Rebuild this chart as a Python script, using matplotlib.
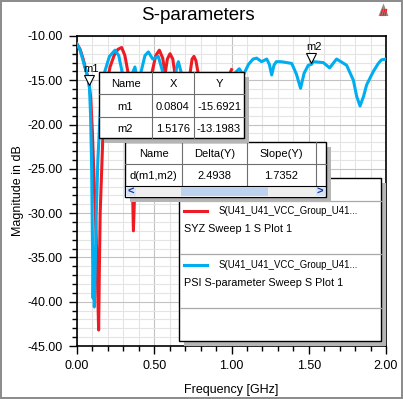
"""S-parameter magnitude plot: SYZ sweep vs PSI sweep, with marker and delta tables"""

import matplotlib
matplotlib.use("Agg")
import matplotlib.pyplot as plt
import matplotlib.transforms as mtransforms
from matplotlib.patches import Rectangle, Polygon
from matplotlib.ticker import MultipleLocator, FormatStrFormatter

plt.rcParams['font.family'] = ['Liberation Sans', 'DejaVu Sans']

# SYZ Sweep 1 (red)
f_syz = [0.00, 0.02, 0.04, 0.06, 0.075, 0.089, 0.10, 0.11, 0.125, 0.133, 0.140,
         0.145, 0.15, 0.16, 0.17, 0.185, 0.214, 0.24, 0.265, 0.289, 0.31, 0.332,
         0.35, 0.365, 0.38, 0.41, 0.45, 0.483, 0.51, 0.533, 0.555, 0.57, 0.585,
         0.602, 0.62, 0.634, 0.66, 0.68, 0.70, 0.731, 0.745, 0.757, 0.77, 0.785,
         0.82, 0.87, 0.93, 0.97, 1.00]
db_syz = [-10.9, -11.5, -12.6, -14.0, -15.0, -17.0, -21.0, -26.0, -33.0, -38.0, -43.2,
          -36.0, -30.0, -25.0, -20.0, -16.0, -13.5, -12.2, -11.5, -11.3, -12.2, -14.3,
          -19.0, -32.0, -24.0, -18.0, -15.5, -14.3, -12.2, -11.6, -12.5, -14.3, -12.6,
          -12.0, -12.6, -14.3, -19.0, -24.0, -19.0, -14.3, -12.6, -12.3, -12.8, -14.3,
          -18.0, -22.0, -17.0, -15.0, -13.8]

# PSI S-parameter Sweep (blue)
f_psi = [0.00, 0.02, 0.04, 0.05, 0.065, 0.0804, 0.088, 0.095, 0.100, 0.104, 0.108,
         0.112, 0.118, 0.125, 0.135, 0.155, 0.18, 0.21, 0.246, 0.27, 0.289, 0.31,
         0.34, 0.375, 0.395, 0.418, 0.44, 0.462, 0.49, 0.526, 0.559, 0.59, 0.62,
         0.645, 0.656, 0.677, 0.72, 0.78, 0.84, 0.90, 0.95, 1.00, 1.033, 1.05,
         1.077, 1.11, 1.14, 1.163, 1.195, 1.228, 1.245, 1.26, 1.275, 1.29, 1.32,
         1.357, 1.39, 1.42, 1.447, 1.47, 1.497, 1.5176, 1.53, 1.594, 1.635, 1.68,
         1.745, 1.789, 1.81, 1.832, 1.855, 1.875, 1.918, 1.95, 1.97, 2.00]
db_psi = [-10.9, -11.6, -12.8, -13.5, -14.3, -15.69, -19.0, -25.0, -33.0, -39.6, -35.0,
          -40.6, -36.0, -30.0, -24.0, -17.0, -14.0, -12.3, -11.6, -12.2, -13.8, -16.0,
          -15.0, -13.5, -15.5, -13.8, -12.2, -11.8, -12.6, -12.3, -14.3, -24.0, -17.0,
          -13.5, -12.9, -14.3, -19.0, -15.5, -16.5, -21.0, -17.0, -14.6, -14.0, -13.7,
          -14.4, -13.2, -12.6, -12.5, -12.9, -12.6, -13.2, -14.4, -13.3, -12.9, -12.9,
          -13.0, -13.1, -14.3, -15.9, -14.2, -13.3, -13.2, -12.9, -13.0, -13.6, -12.6,
          -13.3, -15.0, -16.8, -17.9, -16.8, -15.5, -14.0, -13.1, -12.7, -12.6]

# markers (name, X, Y)
marker_names = ['m1', 'm2']
marker_x = [0.0804, 1.5176]
marker_y = [-15.6921, -13.1983]

legend_names = ['S(U41_U41_VCC_Group_U41...', 'S(U41_U41_VCC_Group_U41...']
legend_sub = ['SYZ Sweep 1 S Plot 1', 'PSI S-parameter Sweep S Plot 1']

red = '#ed1c24'
blue = '#00aeef'

W, H = 403, 399
fig = plt.figure(figsize=(W / 100, H / 100), dpi=100)

# main plot area (pixel box 77..386 x 36..346)
ax = fig.add_axes([77 / W, (H - 346) / H, 309 / W, 310 / H])
ax.plot(f_syz, db_syz, color=red, lw=2.2, zorder=3)
ax.plot(f_psi, db_psi, color=blue, lw=2.2, zorder=4)
ax.set_xlim(0, 2)
ax.set_ylim(-45, -10)

ax.xaxis.set_major_locator(MultipleLocator(0.5))
ax.xaxis.set_minor_locator(MultipleLocator(0.1))
ax.yaxis.set_major_locator(MultipleLocator(5))
ax.yaxis.set_minor_locator(MultipleLocator(1))
ax.xaxis.set_major_formatter(FormatStrFormatter('%.2f'))
ax.yaxis.set_major_formatter(FormatStrFormatter('%.2f'))
ax.tick_params(which='major', length=6, width=1, labelsize=9, pad=4)
ax.tick_params(which='minor', length=3.5, width=1)
ax.grid(True, which='minor', color='#e4e4e4', lw=0.8)
ax.grid(True, which='major', color='#c2c2c2', lw=0.8)
ax.set_axisbelow(True)
for sp in ax.spines.values():
    sp.set_linewidth(1.2)
ax.set_xlabel('Frequency [GHz]', fontsize=9, labelpad=9)
ax.set_ylabel('Magnitude in dB', fontsize=9, labelpad=3)

# marker triangles sit a little above the point
mtrans = mtransforms.offset_copy(ax.transData, fig=fig, x=0, y=4.5, units='points')
ax.plot(marker_x, marker_y, 'v', ms=7, mfc='white', mec='black', mew=0.8,
        transform=mtrans, zorder=6, clip_on=False)
for name, x, y in zip(marker_names, marker_x, marker_y):
    ax.annotate(name, (x, y), xytext=(1.5, 12.8), textcoords='offset points',
                ha='center', va='center', fontsize=8, zorder=6)

# overlay in pixel coordinates for the title, tables and legend panel
ov = fig.add_axes([0, 0, 1, 1], zorder=10)
ov.set_xlim(0, W)
ov.set_ylim(H, 0)
ov.axis('off')
ov.patch.set_alpha(0)

ov.add_patch(Rectangle((0.7, 0.7), W - 1.4, H - 1.4, fill=False, ec='#8a8a8a', lw=1.4))
ov.text(197.5, 16, 'S-parameters', fontsize=13.5, ha='center', va='center')

# small logo top right
ov.add_patch(Polygon([(378.5, 16), (383.5, 3.5), (388.5, 16)], fc='#8f8f8f', ec='none'))
for xs in [(380.8, 382.6), (383.0, 384.8), (385.2, 386.6)]:
    ov.plot(xs, (15.5, 9.5), color=red, lw=0.9)


def draw_box(x0, y0, x1, y1, z, shadow=5):
    ov.add_patch(Rectangle((x0 + shadow, y0 + shadow), x1 - x0, y1 - y0,
                           fc='#b5b5b5', ec='none', zorder=z))
    ov.add_patch(Rectangle((x0, y0), x1 - x0, y1 - y0, fc='white', ec='black',
                           lw=1, zorder=z + 1))


def draw_cells(cols, rows, cells, z):
    for c in cols[1:-1]:
        ov.plot([c, c], [rows[0], rows[-1]], color='#6e6e6e', lw=0.8, zorder=z + 2)
    for r in rows[1:-1]:
        ov.plot([cols[0], cols[-1]], [r, r], color='#6e6e6e', lw=0.8, zorder=z + 2)
    for i, row in enumerate(cells):
        for j, val in enumerate(row):
            ov.text((cols[j] + cols[j + 1]) / 2, (rows[i] + rows[i + 1]) / 2 + 1, val,
                    ha='center', va='center', fontsize=8, zorder=z + 3)


# legend panel
draw_box(179, 178, 381, 341, z=20)
for yy in [201, 254, 308]:
    ov.plot([179.5, 380.5], [yy, yy], color='#a8a8a8', lw=0.9, zorder=22)
for k, (col, nm, sub) in enumerate(zip([red, blue], legend_names, legend_sub)):
    y_line = 211 + 54 * k
    ov.plot([184, 207], [y_line, y_line], color=col, lw=2.2, zorder=23)
    ov.text(219, y_line, nm, fontsize=6.9, va='center', zorder=23)
    ov.text(184, y_line + 18.5, sub, fontsize=7.8, va='center', zorder=23)

# delta table with its scroll bar
delta = marker_y[1] - marker_y[0]
slope = delta / (marker_x[1] - marker_x[0])
draw_box(125, 142, 326, 197, z=30)
draw_cells([125, 182, 247, 316, 326], [142, 164, 186],
           [['Name', 'Delta(Y)', 'Slope(Y)', ''],
            ['d(m1,m2)', '%.4f' % delta, '%.4f' % slope, '']], z=30)
ov.plot([125, 326], [186, 186], color='black', lw=0.8, zorder=33)
ov.add_patch(Rectangle((125.6, 186.5), 199.8, 10, fc='#eeeeee', ec='none', zorder=32))
ov.add_patch(Rectangle((181, 187), 87, 9, fc='#bcd2ee', ec='none', zorder=33))
ov.add_patch(Rectangle((126, 187), 9.5, 9, fc='#d6e4f5', ec='none', zorder=33))
ov.add_patch(Rectangle((315.5, 187), 9.5, 9, fc='#d6e4f5', ec='none', zorder=33))
ov.text(130.7, 191.7, '<', color='#1033a6', fontsize=8, fontweight='bold',
        ha='center', va='center', zorder=34)
ov.text(320.2, 191.7, '>', color='#1033a6', fontsize=8, fontweight='bold',
        ha='center', va='center', zorder=34)

# marker table
draw_box(99, 72, 244, 138, z=40)
draw_cells([99, 152, 194, 244], [72, 94, 117, 138],
           [['Name', 'X', 'Y']] +
           [[n, '%.4f' % x, '%.4f' % y] for n, x, y in zip(marker_names, marker_x, marker_y)],
           z=40)

fig.savefig('out.png', dpi=100)
